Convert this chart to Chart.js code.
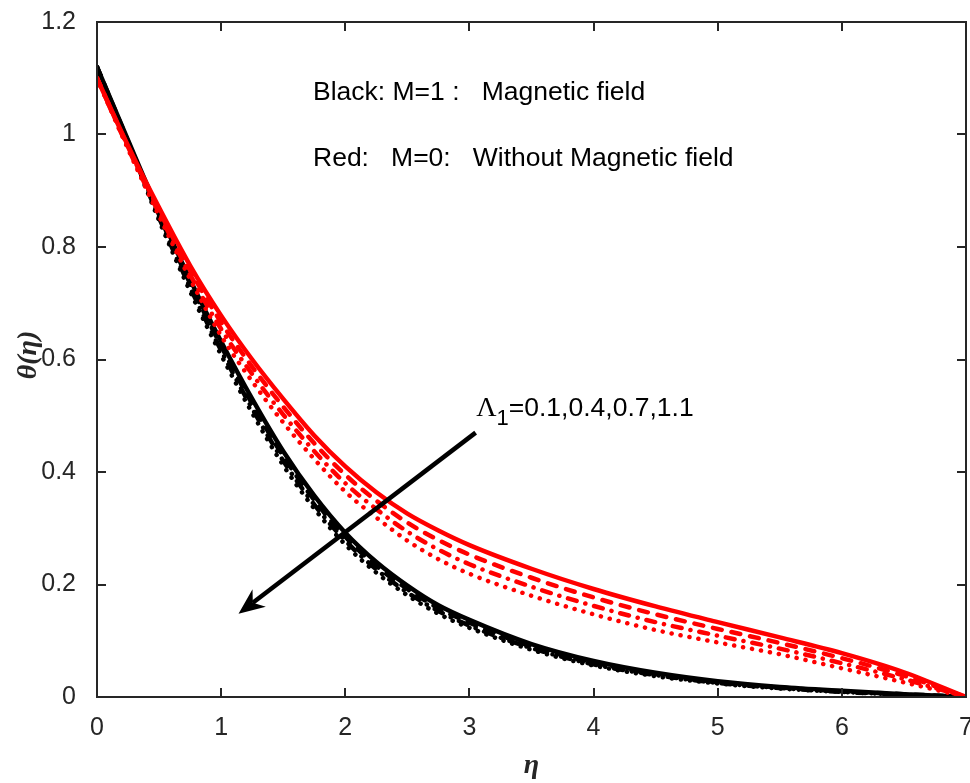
<!DOCTYPE html>
<html>
<head>
<meta charset="utf-8">
<script src="https://cdn.jsdelivr.net/npm/chart.js@4.4.1/dist/chart.umd.min.js"></script>
<style>
    html, body { margin: 0; padding: 0; background: #fff; }
    #wrap { width: 970px; height: 783px; }
</style>
</head>
<body>
<div id="wrap"><canvas id="thetaChart" width="970" height="783"></canvas></div>
<script>
// Data
const eta = [0, 0.25, 0.5, 0.75, 1, 1.25, 1.5, 1.75, 2, 2.25, 2.5, 2.75, 3, 3.5, 4, 4.5, 5, 5.5, 6, 6.5, 7];
const lambdaValues = ['0.1', '0.4', '0.7', '1.1'];

// Red: M = 0 (without magnetic field)
const redL01 = [1.100, 0.980, 0.870, 0.767, 0.678, 0.600, 0.530, 0.465, 0.410, 0.364, 0.326, 0.296, 0.270, 0.228, 0.192, 0.161, 0.133, 0.106, 0.078, 0.044, 0];
const redL04 = [1.100, 0.978, 0.865, 0.759, 0.666, 0.587, 0.516, 0.451, 0.395, 0.349, 0.310, 0.279, 0.253, 0.212, 0.177, 0.147, 0.121, 0.096, 0.069, 0.038, 0];
const redL07 = [1.100, 0.976, 0.860, 0.751, 0.654, 0.574, 0.502, 0.437, 0.380, 0.334, 0.294, 0.262, 0.236, 0.196, 0.162, 0.133, 0.109, 0.086, 0.060, 0.032, 0];
const redL11 = [1.100, 0.974, 0.855, 0.743, 0.642, 0.561, 0.488, 0.423, 0.365, 0.319, 0.278, 0.245, 0.219, 0.180, 0.147, 0.119, 0.097, 0.076, 0.051, 0.026, 0];

// Black: M = 1 (magnetic field)
const blackL01 = [1.120, 0.990, 0.862, 0.742, 0.632, 0.530, 0.437, 0.358, 0.292, 0.240, 0.198, 0.163, 0.137, 0.094, 0.064, 0.043, 0.028, 0.018, 0.011, 0.005, 0];
const blackL04 = [1.120, 0.988, 0.857, 0.735, 0.624, 0.521, 0.428, 0.350, 0.285, 0.233, 0.192, 0.158, 0.132, 0.090, 0.061, 0.041, 0.026, 0.017, 0.010, 0.005, 0];
const blackL07 = [1.120, 0.986, 0.852, 0.728, 0.616, 0.513, 0.420, 0.342, 0.278, 0.227, 0.186, 0.153, 0.127, 0.087, 0.058, 0.039, 0.025, 0.016, 0.009, 0.004, 0];
const blackL11 = [1.120, 0.984, 0.847, 0.721, 0.608, 0.505, 0.412, 0.335, 0.271, 0.221, 0.181, 0.148, 0.123, 0.084, 0.056, 0.037, 0.024, 0.015, 0.009, 0.004, 0];

const xTicks = [0, 1, 2, 3, 4, 5, 6, 7];
const yTicks = [0, 0.2, 0.4, 0.6, 0.8, 1, 1.2];

// Annotation anchors, in data units
const arrowFrom = { x: 3.05, y: 0.470 };
const arrowTo = { x: 1.14, y: 0.148 };

const AXIS_COLOR = '#262626';
const SANS = '"Liberation Sans", Arial, sans-serif';
const SERIF = '"Liberation Serif", "Times New Roman", serif';

// line styles: solid, dashed, dash-dot, dotted
const dashes = [[], [9, 10], [9, 9, 0.1, 9], [0.1, 9]];

function toPoints(ys) {
    return ys.map((y, i) => ({ x: eta[i], y: y }));
}

function makeSet(label, ys, color, k) {
    return {
        label: label,
        data: toPoints(ys),
        borderColor: color,
        borderWidth: 4.5,
        borderDash: dashes[k],
        borderCapStyle: k === 0 ? 'butt' : 'round',
        pointRadius: 0,
        cubicInterpolationMode: 'monotone',
        fill: false
    };
}

const redSets = [redL01, redL04, redL07, redL11];
const blackSets = [blackL01, blackL04, blackL07, blackL11];
const datasets = [];
redSets.forEach((ys, k) => datasets.push(makeSet('M=0, Λ1=' + lambdaValues[k], ys, '#ff0000', k)));
blackSets.forEach((ys, k) => datasets.push(makeSet('M=1, Λ1=' + lambdaValues[k], ys, '#000000', k)));

// frame, inward ticks, axis titles, text and arrow
const extrasPlugin = {
    id: 'extras',
    afterDraw(chart) {
        const ctx = chart.ctx;
        const area = chart.chartArea;
        const xs = chart.scales.x;
        const ys = chart.scales.y;
        ctx.save();

        // box
        ctx.strokeStyle = AXIS_COLOR;
        ctx.lineWidth = 2;
        ctx.strokeRect(area.left, area.top, area.right - area.left, area.bottom - area.top);

        // inward ticks on all sides
        const tl = 9;
        ctx.beginPath();
        xTicks.forEach(v => {
            const px = Math.round(xs.getPixelForValue(v));
            ctx.moveTo(px, area.bottom); ctx.lineTo(px, area.bottom - tl);
            ctx.moveTo(px, area.top); ctx.lineTo(px, area.top + tl);
        });
        yTicks.forEach(v => {
            const py = Math.round(ys.getPixelForValue(v));
            ctx.moveTo(area.left, py); ctx.lineTo(area.left + tl, py);
            ctx.moveTo(area.right, py); ctx.lineTo(area.right - tl, py);
        });
        ctx.stroke();

        // axis titles
        ctx.fillStyle = AXIS_COLOR;
        ctx.font = 'italic bold 28px ' + SERIF;
        ctx.textAlign = 'center';
        ctx.textBaseline = 'middle';
        ctx.fillText('η', (area.left + area.right) / 2, 766);
        ctx.save();
        ctx.translate(29, 355);
        ctx.rotate(-Math.PI / 2);
        ctx.fillText('θ(η)', 0, 0);
        ctx.restore();

        // notes
        ctx.fillStyle = '#000';
        ctx.textAlign = 'left';
        ctx.textBaseline = 'alphabetic';
        ctx.font = '26.5px ' + SANS;
        ctx.fillText('Black: M=1 :   Magnetic field', xs.getPixelForValue(1.74), ys.getPixelForValue(1.061));
        ctx.fillText('Red:   M=0:   Without Magnetic field', xs.getPixelForValue(1.74), ys.getPixelForValue(0.944));

        // Lambda_1 label
        let lx = xs.getPixelForValue(3.055);
        const ly = ys.getPixelForValue(0.500);
        ctx.font = '28px ' + SERIF;
        ctx.fillText('Λ', lx, ly);
        lx += ctx.measureText('Λ').width;
        ctx.font = '22px ' + SANS;
        ctx.fillText('1', lx, ly + 9);
        lx += ctx.measureText('1').width;
        ctx.font = '26.5px ' + SANS;
        ctx.fillText('=0.1,0.4,0.7,1.1', lx, ly);

        // arrow
        const x1 = xs.getPixelForValue(arrowFrom.x), y1 = ys.getPixelForValue(arrowFrom.y);
        const x2 = xs.getPixelForValue(arrowTo.x), y2 = ys.getPixelForValue(arrowTo.y);
        const ang = Math.atan2(y2 - y1, x2 - x1);
        const headLen = 26, headW = 11, back = 8;
        ctx.strokeStyle = '#000';
        ctx.lineWidth = 4.5;
        ctx.beginPath();
        ctx.moveTo(x1, y1);
        ctx.lineTo(x2 - Math.cos(ang) * (headLen - back), y2 - Math.sin(ang) * (headLen - back));
        ctx.stroke();
        ctx.translate(x2, y2);
        ctx.rotate(ang);
        ctx.fillStyle = '#000';
        ctx.beginPath();
        ctx.moveTo(0, 0);
        ctx.lineTo(-headLen, -headW);
        ctx.lineTo(-headLen + back, 0);
        ctx.lineTo(-headLen, headW);
        ctx.closePath();
        ctx.fill();

        ctx.restore();
    }
};

const thetaChart = new Chart(document.getElementById('thetaChart').getContext('2d'), {
    type: 'line',
    data: { datasets: datasets },
    options: {
        responsive: false,
        animation: false,
        devicePixelRatio: 1,
        layout: { padding: { top: 22, right: 4, left: 0, bottom: 0 } },
        plugins: {
            legend: { display: false },
            tooltip: { enabled: false }
        },
        scales: {
            x: {
                type: 'linear',
                min: 0,
                max: 7,
                afterFit: (scale) => {
                    scale.height = 86;
                    scale.paddingLeft = 0;
                    scale.paddingRight = 0;
                },
                afterBuildTicks: (scale) => { scale.ticks = xTicks.map(v => ({ value: v })); },
                grid: { display: false },
                border: { display: false },
                ticks: {
                    color: AXIS_COLOR,
                    padding: 8,
                    maxRotation: 0,
                    font: { family: SANS, size: 25 }
                }
            },
            y: {
                type: 'linear',
                min: 0,
                max: 1.2,
                afterFit: (scale) => {
                    scale.width = 97;
                    scale.paddingTop = 0;
                    scale.paddingBottom = 0;
                },
                afterBuildTicks: (scale) => { scale.ticks = yTicks.map(v => ({ value: v })); },
                grid: { display: false },
                border: { display: false },
                ticks: {
                    color: AXIS_COLOR,
                    padding: 13,
                    callback: (v) => String(Math.round(v * 10) / 10),
                    font: { family: SANS, size: 25 }
                }
            }
        }
    },
    plugins: [extrasPlugin]
});
</script>
</body>
</html>
